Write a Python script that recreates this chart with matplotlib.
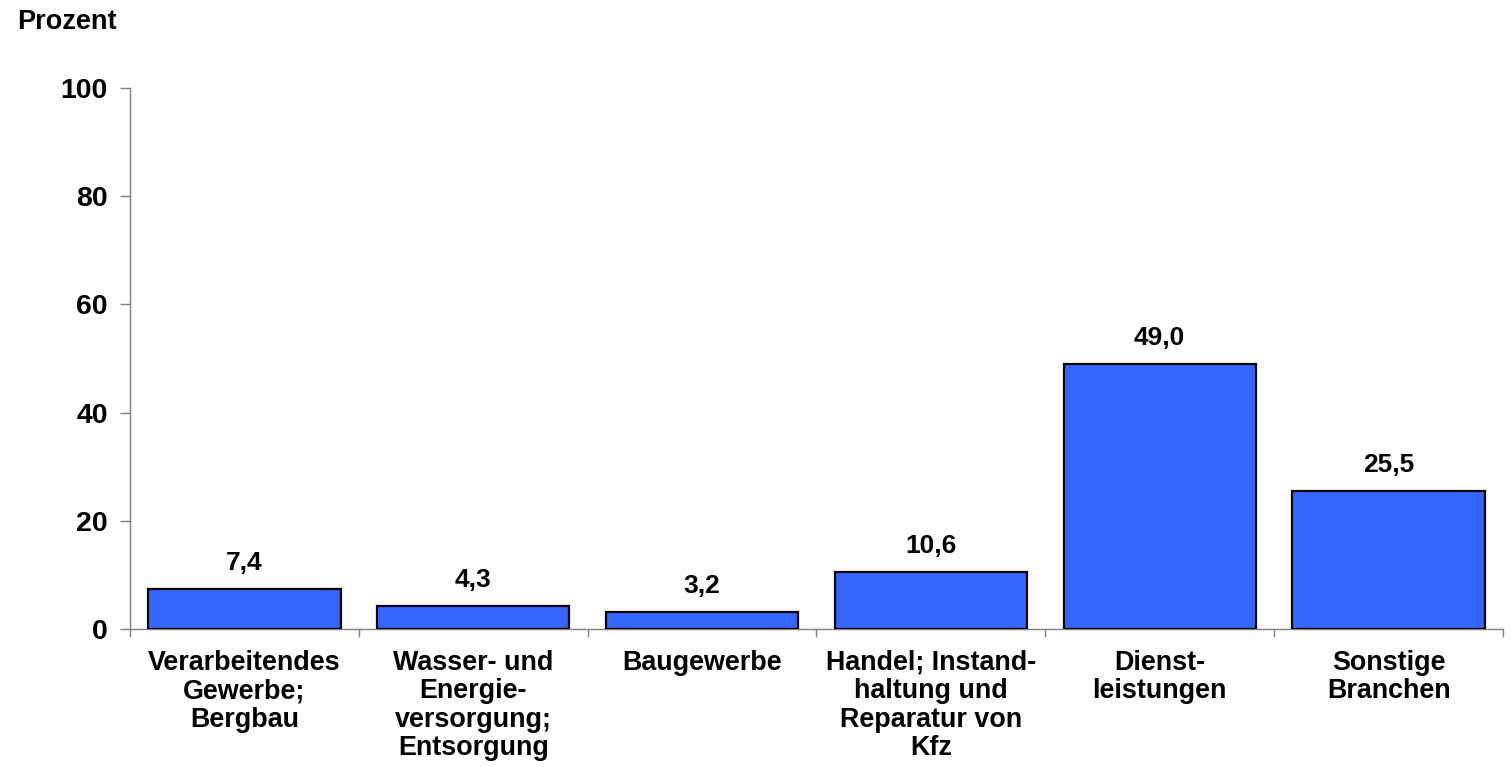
import matplotlib
matplotlib.use("Agg")
import matplotlib.pyplot as plt
from matplotlib import font_manager as fm
import numpy as np
import os

categories = ["Verarbeitendes\nGewerbe;\nBergbau",
              "Wasser- und\nEnergie-\nversorgung;\nEntsorgung",
              "Baugewerbe",
              "Handel; Instand-\nhaltung und\nReparatur von\nKfz",
              "Dienst-\nleistungen",
              "Sonstige\nBranchen"]
values = [7.4, 4.3, 3.2, 10.6, 49.0, 25.5]
yticks = [0, 20, 40, 60, 80, 100]

bold_path = None
for f in fm.findSystemFonts():
    if os.path.basename(f).lower() == "liberationsans-bold.ttf":
        bold_path = f
        break

def fp(size):
    if bold_path:
        return fm.FontProperties(fname=bold_path, size=size)
    return fm.FontProperties(family=['Liberation Sans', 'DejaVu Sans'], weight='bold', size=size)

fig = plt.figure(figsize=(15.11, 7.67), dpi=100)
ax = fig.add_axes([130/1511, 1-629/767, (1503-130)/1511, (629-88)/767])

x = np.arange(len(values))
ax.bar(x, values, width=0.84, color='#3366FF', edgecolor='black', linewidth=1.6, zorder=3)
for xi, v in zip(x, values):
    ax.annotate(f"{v:.1f}".replace('.', ','), (xi, v), xytext=(0, 10), textcoords='offset points',
                ha='center', va='bottom', fontproperties=fp(19))

ax.set_xlim(-0.5, len(values)-0.5)
ax.set_ylim(0, 100)
ax.set_yticks(yticks)
ax.set_yticklabels([str(t) for t in yticks], fontproperties=fp(20.5))
ax.tick_params(axis='y', length=7, width=1, color='#808080', pad=9)

ax.set_xticks(x)
ax.set_xticklabels(categories, fontproperties=fp(19.4), linespacing=1.12)
ax.set_xticks(np.arange(-0.5, len(values)), minor=True)
ax.tick_params(axis='x', which='major', length=0, pad=15)
ax.tick_params(axis='x', which='minor', length=6, width=1, color='#808080')

for s in ['top', 'right']:
    ax.spines[s].set_visible(False)
for s in ['left', 'bottom']:
    ax.spines[s].set_color('#808080')
    ax.spines[s].set_linewidth(1)

fig.text(17/1511, 1-22/767, "Prozent", ha='left', va='center', fontproperties=fp(19.5))

fig.savefig("out.png", dpi=100)
